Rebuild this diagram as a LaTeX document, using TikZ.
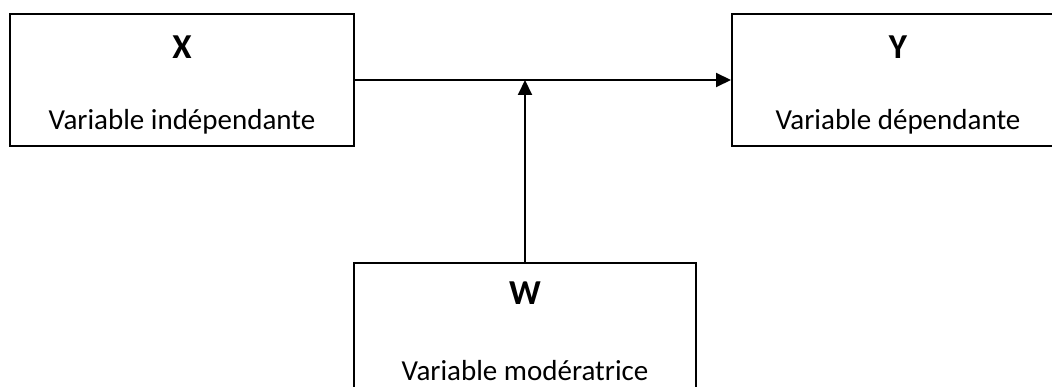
\documentclass[tikz,border=0pt]{standalone}
\usepackage{fontspec}
\setmainfont{Carlito}
\usetikzlibrary{arrows.meta}
\tikzset{
  box/.style={draw=black, line width=2pt, rectangle, inner sep=0pt},
  title/.style={anchor=base, inner sep=0pt, font=\fontsize{35}{38}\selectfont\bfseries},
  sub/.style={anchor=base, inner sep=0pt, font=\fontsize{29}{32}\selectfont},
  arr/.style={line width=2pt, -{Triangle[length=15pt, width=14pt]}}
}
\begin{document}
\begin{tikzpicture}[x=1pt, y=-1pt]
\useasboundingbox (0,0) rectangle (1052,387);
\clip (0,0) rectangle (1052,387);
\node[box, minimum width=344pt, minimum height=132pt] (X) at (182,80) {};
\node[box, minimum width=332pt, minimum height=132pt] (Y) at (898,80) {};
\node[box, minimum width=342pt, minimum height=160pt] (W) at (525,343) {};
\node[title] (Xt) at (182,59) {X};
\node[sub] (Xs) at (182,130) {Variable indépendante};
\node[title] (Yt) at (898,59) {Y};
\node[sub] (Ys) at (898,130) {Variable dépendante};
\node[title] (Wt) at (525,305) {W};
\node[sub] (Ws) at (525,380) {Variable modératrice};
\draw[arr] (X.east) -- (Y.west);
\draw[arr] (W.north) -- (W.north |- X.east);
\end{tikzpicture}
\end{document}
